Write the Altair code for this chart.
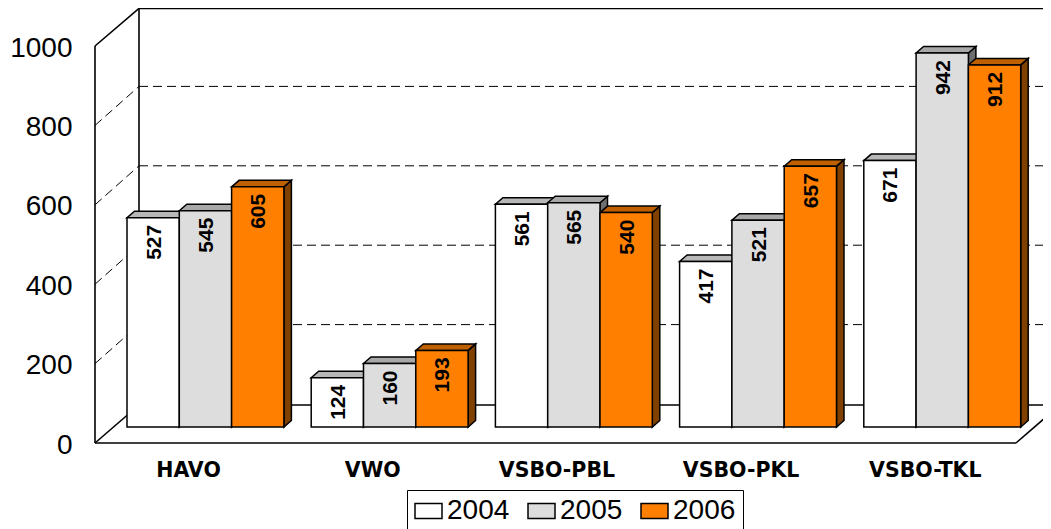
import altair as alt
import pandas as pd

categories = ["HAVO", "VWO", "VSBO-PBL", "VSBO-PKL", "VSBO-TKL"]
years = ["2004", "2005", "2006"]
v2004 = [527, 124, 561, 417, 671]
v2005 = [545, 160, 565, 521, 942]
v2006 = [605, 193, 540, 657, 912]
front_colors = ["#FFFFFF", "#DDDDDD", "#FF8000"]
top_colors = ["#B8B8B8", "#A8A8A8", "#BF6000"]
side_colors = ["#808080", "#6F6F6F", "#804000"]
grid_values = [200, 400, 600, 800]
y_ticks = [0, 200, 400, 600, 800, 1000]

PX_X = 184.2          # pixels per category
PX_Y = 0.397          # pixels per value unit
WALL_DX = 44 / PX_X
WALL_DY = 38 / PX_Y
GRID_DY = 39 / PX_Y
BAR_START = 32 / PX_X
BAR_W = 52.3 / PX_X
BAR_DX = 7.5 / PX_X
BAR_DY = 6.5 / PX_Y
BASE = 16 / PX_Y
PLOT_W = 948
PLOT_H = 435
X_MAX = PLOT_W / PX_X
Y_MAX = PLOT_H / PX_Y

x_scale = alt.Scale(domain=[0, X_MAX], nice=False, zero=False)
y_scale = alt.Scale(domain=[0, Y_MAX], nice=False, zero=False)
x_plain = alt.X("x:Q", scale=x_scale)
y_plain = alt.Y("y:Q", scale=y_scale)

series = [v2004, v2005, v2006]
fronts, labels, side_layers, top_layers = [], [], [], []
for g, cat in enumerate(categories):
    for s, yr in enumerate(years):
        v = series[s][g]
        x0 = g + BAR_START + s * BAR_W
        x1 = x0 + BAR_W
        y1 = BASE + v
        fronts.append(dict(x=x0, x2=x1, y=BASE, y2=y1, year=yr))
        labels.append(dict(x=(x0 + x1) / 2, y=y1, v=str(v)))
        top_rows = pd.DataFrame([
            dict(x=x0, y=y1, y2=y1),
            dict(x=x0 + BAR_DX, y=y1, y2=y1 + BAR_DY),
            dict(x=x1, y=y1, y2=y1 + BAR_DY),
            dict(x=x1 + BAR_DX, y=y1 + BAR_DY, y2=y1 + BAR_DY),
        ])
        side_rows = pd.DataFrame([
            dict(y=BASE, x=x1, x2=x1),
            dict(y=BASE + BAR_DY, x=x1, x2=x1 + BAR_DX),
            dict(y=y1, x=x1, x2=x1 + BAR_DX),
            dict(y=y1 + BAR_DY, x=x1 + BAR_DX, x2=x1 + BAR_DX),
        ])
        top_layers.append(alt.Chart(top_rows).mark_area(
            orient="vertical", fill=top_colors[s], stroke="black", strokeWidth=1.5
        ).encode(x=x_plain, y=y_plain, y2="y2:Q"))
        side_layers.append(alt.Chart(side_rows).mark_area(
            orient="horizontal", fill=side_colors[s], stroke="black", strokeWidth=1.5
        ).encode(x=x_plain, x2="x2:Q", y=y_plain))

label_expr = "[" + ",".join(f"'{c}'" for c in categories) + "][floor(datum.value)]"
x_enc = alt.X("x:Q", scale=x_scale, axis=alt.Axis(
    values=[i + 0.505 for i in range(len(categories))], labelExpr=label_expr,
    title=None, domain=False, ticks=False, grid=False, labelFont="DejaVu Sans",
    labelFontWeight="bold", labelFontSize=20.5, labelColor="black", labelPadding=17,
    labelOverlap=False, labelBound=False, labelFlush=False))
y_enc = alt.Y("y:Q", scale=y_scale, axis=alt.Axis(
    values=y_ticks, format="d", title=None, domain=False, ticks=False, grid=False,
    labelFont="Liberation Sans", labelFontSize=28, labelColor="black", labelOffset=2,
    labelPadding=23, labelOverlap=False, labelBound=False, labelFlush=False))

solid = pd.DataFrame([
    dict(x=0, x2=0, y=0, y2=1000),
    dict(x=0, x2=WALL_DX, y=1000, y2=Y_MAX - 1),
    dict(x=WALL_DX, x2=WALL_DX, y=WALL_DY, y2=Y_MAX - 1),
    dict(x=WALL_DX, x2=X_MAX, y=Y_MAX - 1, y2=Y_MAX - 1),
    dict(x=0, x2=WALL_DX, y=0, y2=WALL_DY),
    dict(x=0, x2=len(categories), y=0, y2=0),
    dict(x=WALL_DX, x2=X_MAX, y=WALL_DY, y2=WALL_DY),
    dict(x=len(categories), x2=len(categories) + WALL_DX, y=0, y2=WALL_DY),
])
dashed = pd.DataFrame(
    [dict(x=WALL_DX, x2=X_MAX, y=v + GRID_DY, y2=v + GRID_DY) for v in grid_values]
    + [dict(x=0, x2=WALL_DX, y=v, y2=v + GRID_DY) for v in grid_values]
)

solid_layer = alt.Chart(solid).mark_rule(color="black", strokeWidth=1.6).encode(
    x=x_enc, y=y_enc, x2="x2:Q", y2="y2:Q")
dashed_layer = alt.Chart(dashed).mark_rule(color="black", strokeWidth=1, strokeDash=[9, 5]).encode(
    x=x_enc, y=y_enc, x2="x2:Q", y2="y2:Q")
front_layer = alt.Chart(pd.DataFrame(fronts)).mark_bar(
    stroke="black", strokeWidth=1.5
).encode(
    x=x_plain, x2="x2:Q", y=y_plain, y2="y2:Q",
    color=alt.Color("year:N", scale=alt.Scale(domain=years, range=front_colors), legend=alt.Legend(
        title=None, orient="none", legendX=312, legendY=482, direction="horizontal", columns=3,
        symbolType="M-1.8,-1H1.8V1H-1.8Z", symbolSize=225, symbolStrokeColor="black",
        symbolStrokeWidth=1.5, symbolOffset=0.5, labelFont="Liberation Sans", labelFontSize=28,
        labelColor="black", labelOffset=4.5, columnPadding=15, fillColor="white", strokeColor="black",
        padding=7, labelLimit=100)))
text_layer = alt.Chart(pd.DataFrame(labels)).mark_text(
    angle=270, align="right", baseline="middle", dx=-7, dy=1.5, font="Liberation Sans",
    fontWeight="bold", fontSize=21, color="black"
).encode(x=x_plain, y=y_plain, text="v:N")

chart = alt.layer(solid_layer, dashed_layer, *side_layers, *top_layers, front_layer, text_layer).properties(
    width=PLOT_W, height=PLOT_H,
    padding={"left": 87, "top": 0, "right": 0, "bottom": 86},
    autosize=alt.AutoSizeParams(type="none"),
).configure_view(stroke=None)

chart.save("out.html", embed_options={"renderer": "svg", "actions": False})
